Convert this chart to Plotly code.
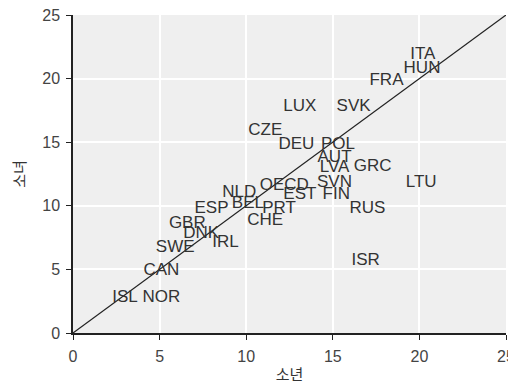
import plotly.graph_objects as go

countries = ["ITA", "HUN", "FRA", "LUX", "SVK", "CZE", "DEU", "POL", "AUT", "LVA",
             "GRC", "SVN", "LTU", "OECD", "EST", "FIN", "RUS", "PRT", "CHE", "ISR",
             "NLD", "BEL", "ESP", "GBR", "DNK", "IRL", "SWE", "CAN", "ISL", "NOR"]
boys = [20.2, 20.15, 18.1, 13.1, 16.2, 11.1, 12.9, 15.3, 15.1, 15.1,
        17.3, 15.1, 20.1, 12.2, 13.1, 15.2, 17.0, 11.9, 11.1, 16.9,
        9.6, 10.1, 8.0, 6.6, 7.4, 8.8, 5.9, 5.1, 3.0, 5.1]
girls = [21.9, 20.8, 19.8, 17.8, 17.8, 15.9, 14.8, 14.8, 13.8, 13.0,
         13.1, 11.8, 11.8, 11.6, 10.9, 10.9, 9.8, 9.8, 8.8, 5.7,
         11.0, 10.2, 9.8, 8.6, 7.8, 7.1, 6.7, 4.9, 2.8, 2.8]

diag = [0, 25]
ticks = [0, 5, 10, 15, 20, 25]

fig = go.Figure()
fig.add_trace(go.Scatter(
    x=diag, y=diag, mode="lines",
    line=dict(color="#222222", width=1.2),
    hoverinfo="skip",
))
fig.add_trace(go.Scatter(
    x=boys, y=girls, mode="text", text=countries,
    textposition="middle center",
    textfont=dict(family="Liberation Sans, Arial", size=17, color="#333333"),
))

axis_common = dict(
    range=[0, 25],
    tickvals=ticks,
    automargin=False,
    showgrid=True,
    gridcolor="white",
    gridwidth=1.5,
    zeroline=False,
    showline=True,
    linecolor="#222222",
    linewidth=1.5,
    ticks="outside",
    ticklen=5,
    tickcolor="#222222",
    ticklabelstandoff=3,
    ticklabeloverflow="allow",
    tickfont=dict(family="Liberation Sans, Arial", size=16, color="#444444"),
)

# the page body keeps its default 8px margin, so the figure is sized to fit inside it
fig.update_layout(
    width=508,
    height=376,
    margin=dict(l=65, r=10, t=7, b=51),
    paper_bgcolor="white",
    plot_bgcolor="#efefef",
    showlegend=False,
    xaxis=dict(**axis_common,
               title=dict(text="소년", standoff=7,
                          font=dict(family="Noto Sans CJK KR", size=15, color="#333333"))),
    yaxis=dict(**axis_common,
               title=dict(text="소녀", standoff=16,
                          font=dict(family="Noto Sans CJK KR", size=15, color="#333333"))),
)

fig.write_html("out.html")
